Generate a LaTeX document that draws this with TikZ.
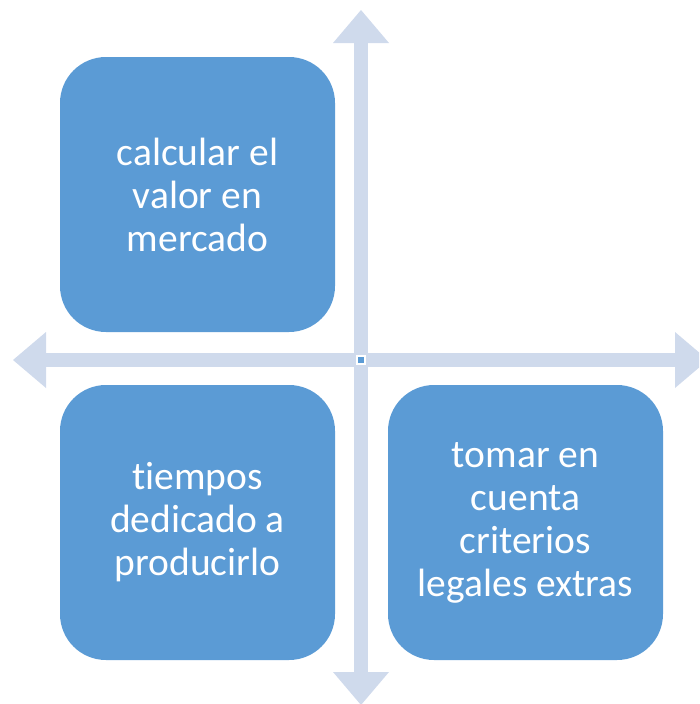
\documentclass[tikz,border=0pt]{standalone}
\usepackage{fontspec}
\newfontfamily\boxfont[Ligatures={NoCommon}]{Carlito}
\usetikzlibrary{arrows.meta}
\definecolor{boxblue}{RGB}{91,155,213}
\definecolor{axisblue}{RGB}{207,218,236}
\tikzset{
  box/.style={rectangle,rounded corners=46pt,fill=boxblue,minimum width=275pt,minimum height=275pt,
    inner sep=0pt,text=white,align=center,font=\boxfont\fontsize{39.5}{43}\selectfont},
  axis/.style={draw=axisblue,line width=14pt,
    {Triangle[width=56pt,length=33pt,line width=0pt]}-{Triangle[width=56pt,length=33pt,line width=0pt]}}
}
\begin{document}
\begin{tikzpicture}[x=1pt,y=-1pt]
\useasboundingbox (0,0) rectangle (699,704);
\clip (0,0) rectangle (699,704);
\coordinate (axt) at (361,10);
\coordinate (axb) at (361,705);
\coordinate (axl) at (13,360);
\coordinate (axr) at (708,360);
\draw[axis] (axt) -- (axb);
\draw[axis] (axl) -- (axr);
\node[draw=white,line width=2.5pt,fill=boxblue,minimum size=8pt,inner sep=0pt] (mid) at (361,360) {};
\node[box] (value) at (197.5,194.5) {calcular el\\valor en\\mercado};
\node[box] (time) at (197.5,522.5) {tiempos\\dedicado a\\producirlo};
\node[box] (legal) at (525.5,522.5) {tomar en\\cuenta\\criterios\\legales extras};
\end{tikzpicture}
\end{document}
